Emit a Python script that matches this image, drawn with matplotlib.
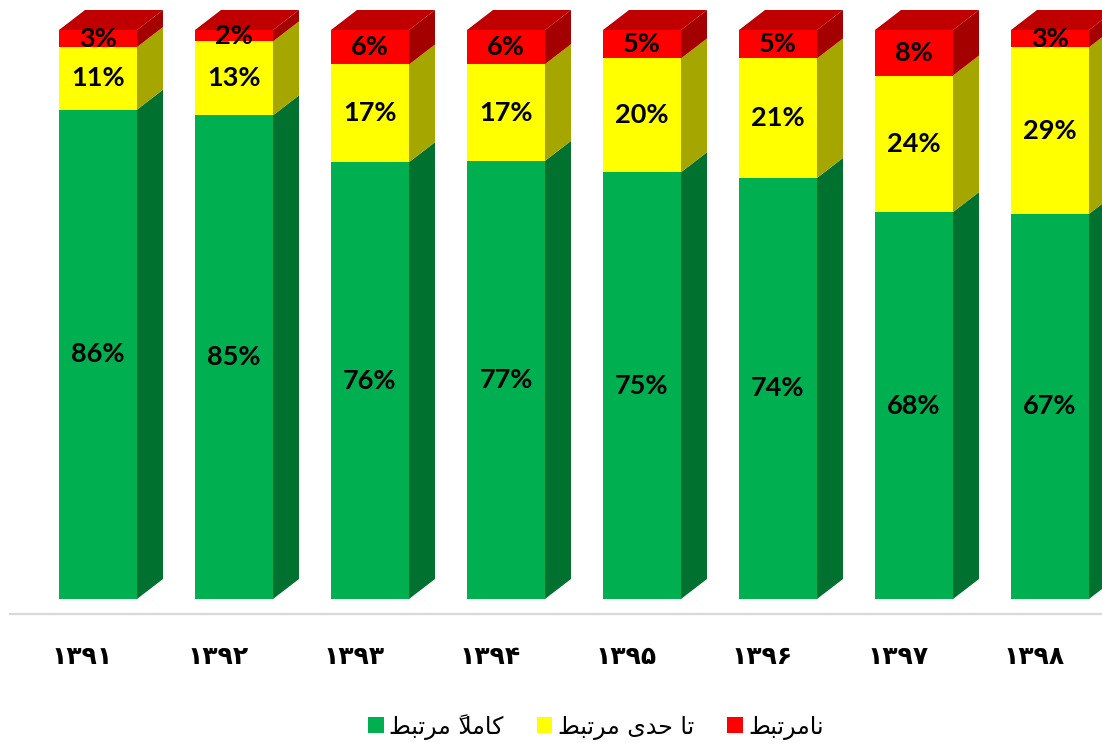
import matplotlib
matplotlib.use("Agg")
import matplotlib.pyplot as plt
from matplotlib.patches import Polygon, Patch

# ---------------- data ----------------
years = ["\u06f1\u06f3\u06f9\u06f1", "\u06f1\u06f3\u06f9\u06f2", "\u06f1\u06f3\u06f9\u06f3", "\u06f1\u06f3\u06f9\u06f4",
         "\u06f1\u06f3\u06f9\u06f5", "\u06f1\u06f3\u06f9\u06f6", "\u06f1\u06f3\u06f9\u06f7", "\u06f1\u06f3\u06f9\u06f8"]
fully_related = [86, 85, 76, 77, 75, 74, 68, 67]
partly_related = [11, 13, 17, 17, 20, 21, 24, 29]
unrelated = [3, 2, 6, 6, 5, 5, 8, 3]

# legend labels (Persian, written with presentation forms in visual order)
lbl_fully = "\uFEC2\uFE92\uFE97\uFEAE\uFEE3 \u064B\uFEFC\uFEE3\uFE8E\uFB90"      # کاملاً مرتبط
lbl_partly = "\uFEC2\uFE92\uFE97\uFEAE\uFEE3 \uFEEF\uFEAA\uFEA3 \uFE8E\uFE97"     # تا حدی مرتبط
lbl_unrel = "\uFEC2\uFE92\uFE97\uFEAE\uFEE3\uFE8E\uFEE7"                          # نامرتبط

# ---------------- styles ----------------
front_cols = ["#00B050", "#FFFF00", "#FF0000"]
side_cols = ["#00712F", "#A6A600", "#A50000"]
top_col = "#C00000"

W, H = 1102, 743
fig = plt.figure(figsize=(W / 100, H / 100), dpi=100)

ax_l, ax_r, ax_t, ax_b = 10, 1102, 0, 614
ax = fig.add_axes([ax_l / W, 1 - ax_b / H, (ax_r - ax_l) / W, (ax_b - ax_t) / H])

step_px = 136.0
x0_px = 98.0
zero_px, full_px = 599.0, 30.0
ppu = (zero_px - full_px) / 100.0
ax.set_xlim((ax_l - x0_px) / step_px, (ax_r - x0_px) / step_px)
ax.set_ylim(-(ax_b - zero_px) / ppu, 100 + (full_px - ax_t) / ppu)

width = 78 / step_px
dx = 26 / step_px
dy = 20 / ppu

series = [fully_related, partly_related, unrelated]
n = len(years)
for i in range(n):
    total = sum(s[i] for s in series)
    bottom = 0.0
    xl, xr = i - width / 2, i + width / 2
    for k, s in enumerate(series):
        h = s[i] / total * 100.0
        ax.bar(i, h, bottom=bottom, width=width, color=front_cols[k], linewidth=0, zorder=2)
        side = Polygon([(xr, bottom), (xr, bottom + h), (xr + dx, bottom + h + dy), (xr + dx, bottom + dy)],
                       closed=True, facecolor=side_cols[k], edgecolor="none", zorder=2)
        ax.add_patch(side)
        ax.text(i, bottom + h / 2, f"{s[i]}%", ha="center", va="center", fontsize=19.5,
                fontweight="bold", family="Lato", color="black", zorder=5)
        bottom += h
    top = Polygon([(xl, bottom), (xr, bottom), (xr + dx, bottom + dy), (xl + dx, bottom + dy)],
                  closed=True, facecolor=top_col, edgecolor="none", zorder=2)
    ax.add_patch(top)

for sp in ["top", "left", "right"]:
    ax.spines[sp].set_visible(False)
ax.spines["bottom"].set_color("#D9D9D9")
ax.spines["bottom"].set_linewidth(1.6)
ax.set_yticks([])
ax.set_xticks([i - 16 / step_px for i in range(n)])
ax.set_xticklabels(years, fontsize=18, fontweight="bold", family="DejaVu Sans")
ax.tick_params(axis="x", length=0, pad=22)

handles = [Patch(facecolor=front_cols[0], edgecolor="none", label=lbl_fully),
           Patch(facecolor=front_cols[1], edgecolor="none", label=lbl_partly),
           Patch(facecolor=front_cols[2], edgecolor="none", label=lbl_unrel)]
fig.legend(handles=handles, loc="center", bbox_to_anchor=(0.541, 0.022), ncol=3, frameon=False,
           prop={"family": "DejaVu Sans", "size": 17}, handlelength=0.65, handleheight=0.65,
           handletextpad=0.25, columnspacing=1.4)

fig.savefig("out.png", dpi=100, facecolor="white")
